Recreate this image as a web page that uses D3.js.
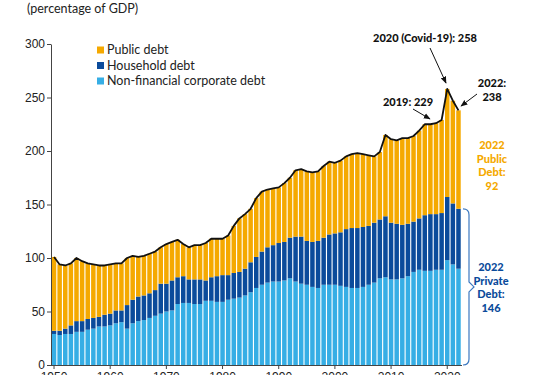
<!DOCTYPE html>
<html>
<head>
<meta charset="utf-8">
<script src="https://cdn.jsdelivr.net/npm/d3@7"></script>
<style>
  body { margin: 0; background: #fff; }
  svg { font-family: Lato, "Noto Sans", sans-serif; display: block; }
  .axis path, .axis line { stroke: #444; }
  .axis text { fill: #222; font-size: 12px; }
  .note { font-weight: 900; font-size: 11px; }
</style>
</head>
<body>
<div id="chart"></div>
<script>
// global debt, percentage of GDP, 1950-2022
var years = d3.range(1950, 2023)

var corporate = [29,28,29,29,31,31,33,34,36,36, 37,39,40,34,39,41,42,44,46,48,
  50,51,57,58,58,57,57,60,60,59, 59,61,62,63,65,68,72,75,77,78,
  78,79,81,78,76,75,73,72,75,75, 75,74,73,72,72,73,75,77,81,82,
  80,80,81,83,87,89,88,88,89,89, 98,94,90]

var household = [3,4,5,8,10,10,10,10,9,11, 11,12,11,22,22,23,23,23,24,28,
  26,28,25,25,22,23,23,19,22,24, 25,23,24,24,25,28,29,31,33,34,
  36,36,38,42,44,41,42,44,44,47, 48,50,54,56,56,56,55,56,55,57,
  53,52,50,49,47,48,52,53,52,53, 59,57,56]

var publicDebt = [69,62,59,58,59,56,52,50,48,46, 46,44,44,44,41,37,37,37,36,34,
  37,36,35,30,30,32,32,35,36,35, 34,37,44,50,51,50,55,56,54,53,
  52,55,56,62,63,65,65,65,67,68, 66,67,68,69,70,68,66,62,63,76,
  78,78,81,80,80,82,85,84,85,87, 101,96,92]

var seriesNames = ['Non-financial corporate debt', 'Household debt', 'Public debt']
var legendOrder = ['Public debt', 'Household debt', 'Non-financial corporate debt']
var colors = {'Public debt':'#F5A900', 'Household debt':'#0B4B9B', 'Non-financial corporate debt':'#36AEE5'}
var yTicks = [0,50,100,150,200,250,300]
var xTicks = [1950,1960,1970,1980,1990,2000,2010,2020]

var rows = years.map(function(y, i){
  return {
    year: y,
    'Non-financial corporate debt': corporate[i],
    'Household debt': household[i],
    'Public debt': publicDebt[i]
  }
})

var width = 538, height = 375
var svg = d3.select('#chart').append('svg').attr('width', width).attr('height', height)

var x = d3.scaleBand().domain(years).range([51.5, 461]).paddingInner(0.2).paddingOuter(0.05)
var y = d3.scaleLinear().domain([0, 300]).range([365, 44])

var stack = d3.stack().keys(seriesNames)(rows)

svg.append('g').selectAll('g')
  .data(stack).enter().append('g')
  .attr('fill', function(d){ return colors[d.key] })
  .selectAll('rect')
  .data(function(d){ return d }).enter().append('rect')
  .attr('x', function(d){ return x(d.data.year) })
  .attr('width', x.bandwidth())
  .attr('y', function(d){ return y(d[1]) })
  .attr('height', function(d){ return y(d[0]) - y(d[1]) })

// total line
var total = rows.map(function(r){ return r['Public debt'] + r['Household debt'] + r['Non-financial corporate debt'] })
svg.append('path')
  .datum(years)
  .attr('fill', 'none')
  .attr('stroke', '#111')
  .attr('stroke-width', 1.8)
  .attr('stroke-linejoin', 'round')
  .attr('d', d3.line()
    .x(function(d){ return x(d) + x.bandwidth()/2 })
    .y(function(d, i){ return y(total[i]) }))

// axes
svg.append('g').attr('class', 'axis')
  .attr('transform', 'translate(51,0)')
  .call(d3.axisLeft(y).tickValues(yTicks).tickSize(4).tickPadding(2).tickSizeOuter(0))

svg.append('g').attr('class', 'axis')
  .attr('transform', 'translate(0,365)')
  .call(d3.axisBottom(x).tickValues(xTicks).tickSize(4).tickSizeOuter(0))
svg.selectAll('.axis .domain').attr('stroke', '#444')
// stretch bottom axis line to the y axis
svg.append('line').attr('x1', 51).attr('x2', 462).attr('y1', 365.5).attr('y2', 365.5).attr('stroke', '#444')

// subtitle
svg.append('text').attr('x', 27).attr('y', 13).attr('font-size', 12.5).attr('fill', '#222')
  .text('(percentage of GDP)')

// legend
var lg = svg.append('g').selectAll('g').data(legendOrder).enter().append('g')
  .attr('transform', function(d, i){ return 'translate(97,' + (50 + i*15.5) + ')' })
lg.append('rect').attr('x', 0).attr('y', -3.5).attr('width', 7).attr('height', 7)
  .attr('fill', function(d){ return colors[d] })
lg.append('text').attr('x', 10).attr('dy', '0.35em').attr('font-size', 12.5).attr('fill', '#222')
  .text(function(d){ return d })

// annotations
var defs = svg.append('defs')
defs.append('marker').attr('id', 'arr').attr('viewBox', '0 0 10 10')
  .attr('refX', 9).attr('refY', 5).attr('markerWidth', 7).attr('markerHeight', 7)
  .attr('orient', 'auto')
  .append('path').attr('d', 'M0,1 L10,5 L0,9 Z').attr('fill', '#111')

var arrow = function(x1, y1, x2, y2){
  svg.append('line').attr('x1', x1).attr('y1', y1).attr('x2', x2).attr('y2', y2)
    .attr('stroke', '#111').attr('stroke-width', 1).attr('marker-end', 'url(#arr)')
}
var note = function(tx, ty, lines, color){
  var t = svg.append('text').attr('class', 'note').attr('text-anchor', 'middle').attr('fill', color)
  lines.forEach(function(l, i){
    t.append('tspan').attr('x', tx).attr('y', ty + i*13.5).text(l)
  })
}

note(425, 42, ['2020 (Covid-19): 258'], '#111')
arrow(430, 48, 446, 83)
note(492, 87, ['2022:', '238'], '#111')
arrow(477, 94, 461, 106)
note(408, 106, ['2019: 229'], '#111')
arrow(413, 109, 430, 119)

note(492, 149, ['2022', 'Public', 'Debt:', '92'], '#F5A900')
note(491, 271, ['2022', 'Private', 'Debt:', '146'], '#0B4B9B')

// brace for private debt
var bx = 463, bTop = y(146), bBot = 365, bMid = (bTop + bBot)/2
svg.append('path')
  .attr('fill', 'none').attr('stroke', '#3C78C0').attr('stroke-width', 1.2)
  .attr('d', 'M' + bx + ',' + bTop + ' Q' + (bx+6) + ',' + bTop + ' ' + (bx+6) + ',' + (bTop+6)
    + ' L' + (bx+6) + ',' + (bMid-5) + ' L' + (bx+11) + ',' + bMid + ' L' + (bx+6) + ',' + (bMid+5)
    + ' L' + (bx+6) + ',' + (bBot-6) + ' Q' + (bx+6) + ',' + bBot + ' ' + bx + ',' + bBot)
</script>
</body>
</html>
